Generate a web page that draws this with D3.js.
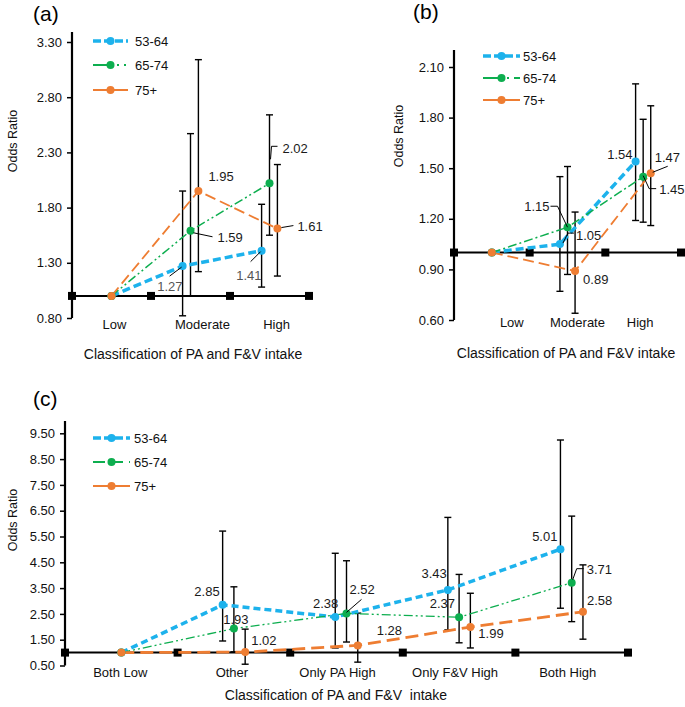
<!DOCTYPE html>
<html>
<head>
<meta charset="utf-8">
<script src="https://cdn.jsdelivr.net/npm/d3@7"></script>
<style>
  body { margin: 0; background: #fff; }
  svg text { font-family: "Liberation Sans", Arial, sans-serif; }
</style>
</head>
<body>
<div id="chart"></div>
<script>
// categories, groups, tick labels
const groups = ["53-64", "65-74", "75+"];
const catsAB = ["Low", "Moderate", "High"];
const catsC = ["Both Low", "Other", "Only PA High", "Only F&V High", "Both High"];
const ticksA = [0.80, 1.30, 1.80, 2.30, 2.80, 3.30];
const ticksB = [0.60, 0.90, 1.20, 1.50, 1.80, 2.10];
const ticksC = [0.50, 1.50, 2.50, 3.50, 4.50, 5.50, 6.50, 7.50, 8.50, 9.50];

// (a) odds ratios and 95% CI
const a_or_5364 = [1.00, 1.27, 1.41];
const a_or_6574 = [1.00, 1.59, 2.02];
const a_or_75   = [1.00, 1.95, 1.61];
const a_lo_5364 = [null, 0.82, 1.08];
const a_hi_5364 = [null, 1.95, 1.83];
const a_lo_6574 = [null, 1.00, 1.55];
const a_hi_6574 = [null, 2.47, 2.64];
const a_lo_75   = [null, 1.22, 1.18];
const a_hi_75   = [null, 3.14, 2.19];

// (b)
const b_or_5364 = [1.00, 1.05, 1.54];
const b_or_6574 = [1.00, 1.15, 1.45];
const b_or_75   = [1.00, 0.89, 1.47];
const b_lo_5364 = [null, 0.77, 1.19];
const b_hi_5364 = [null, 1.45, 2.00];
const b_lo_6574 = [null, 0.87, 1.18];
const b_hi_6574 = [null, 1.51, 1.79];
const b_lo_75   = [null, 0.64, 1.16];
const b_hi_75   = [null, 1.24, 1.87];

// (c)
const c_or_5364 = [1.00, 2.85, 2.38, 3.43, 5.01];
const c_or_6574 = [1.00, 1.93, 2.52, 2.37, 3.71];
const c_or_75   = [1.00, 1.02, 1.28, 1.99, 2.58];
const c_lo_5364 = [null, 1.45, 1.18, 1.88, 2.72];
const c_hi_5364 = [null, 5.71, 4.85, 6.24, 9.24];
const c_lo_6574 = [null, 1.03, 1.41, 1.38, 2.20];
const c_hi_6574 = [null, 3.55, 4.56, 4.03, 6.29];
const c_lo_75   = [null, 0.55, 0.63, 1.18, 1.52];
const c_hi_75   = [null, 1.91, 2.53, 3.30, 4.40];

const colors = ["#1DB2EC", "#0DAE4F", "#EE7D32"];
const W = 685, H = 707;

const svg = d3.select("#chart").append("svg")
  .attr("width", W).attr("height", H)
  .attr("viewBox", [0, 0, W, H].join(" "));

// layout of each panel
const panels = [
  {
    tag: "(a)", tagX: 33, tagY: 21,
    cats: catsAB, ticks: ticksA, catShift: [3, 12, 7],
    or: [a_or_5364, a_or_6574, a_or_75],
    lo: [a_lo_5364, a_lo_6574, a_lo_75],
    hi: [a_hi_5364, a_hi_6574, a_hi_75],
    x0: 72, x1: 309, yb: 318, yt: 42, axisTop: 32,
    catY: 329, titleX: 193, titleY: 359,
    title: "Classification of PA and F&V intake",
    yTitleX: 17, yTitleY: 141,
    widths: [3.5, 1.5, 1.8],
    dashes: ["8,4", "9,3,2,3,2,3", "11,5"],
    legend: { x0: 93, x1: 128, ys: [41, 65, 90], tx: 135,
              dashes: ["8,3", "20,4,2,5,2,5", null] },
    labels: [
      { s: 0, c: 1, dx: 0, dy: 25, anchor: "end", lead: [[-1, 1], [-13, 10]], color: "#555" },
      { s: 0, c: 2, dx: 0, dy: 29, anchor: "end", lead: [[-1, 1], [-11, 11]], color: "#555" },
      { s: 1, c: 1, dx: 27, dy: 11, anchor: "start", lead: [[3, 2], [22, 6]] },
      { s: 1, c: 2, dx: 13, dy: -30, anchor: "start", lead: [[1, -24], [2, -37], [8, -37]] },
      { s: 2, c: 1, dx: 10, dy: -10, anchor: "start" },
      { s: 2, c: 2, dx: 20, dy: 2, anchor: "start", lead: [[4, -1], [16, -3]] }
    ]
  },
  {
    tag: "(b)", tagX: 413, tagY: 19,
    cats: catsAB, ticks: ticksB, catShift: [20, 10, -3],
    or: [b_or_5364, b_or_6574, b_or_75],
    lo: [b_lo_5364, b_lo_6574, b_lo_75],
    hi: [b_hi_5364, b_hi_6574, b_hi_75],
    x0: 454, x1: 681, yb: 320, yt: 67, axisTop: 50,
    catY: 327, titleX: 566, titleY: 358,
    title: "Classification of PA and F&V intake",
    yTitleX: 403, yTitleY: 136,
    widths: [3.5, 1.5, 1.8],
    dashes: ["8,4", "9,3,2,3", "11,5"],
    legend: { x0: 483, x1: 520, ys: [56, 78, 100], tx: 523,
              dashes: ["8,3", "20,4,2,5", null] },
    labels: [
      { s: 0, c: 2, dx: -3, dy: -2, anchor: "end" },
      { s: 2, c: 2, dx: 4, dy: -11, anchor: "start", lead: [[2, -1], [17, -7]] },
      { s: 1, c: 2, dx: 16, dy: 17, anchor: "start", lead: [[0, -1], [6, 12], [13, 12]] },
      { s: 1, c: 1, dx: -18, dy: -16, anchor: "end", lead: [[0, 0], [-10, -21], [-17, -21]] },
      { s: 0, c: 1, dx: 16, dy: -4, anchor: "start", lead: [[3, -1], [8, -11], [14, -11]] },
      { s: 2, c: 1, dx: 8, dy: 13, anchor: "start" }
    ]
  },
  {
    tag: "(c)", tagX: 33, tagY: 406,
    cats: catsC, ticks: ticksC, catShift: [-1, -2, -9, -4, -4],
    or: [c_or_5364, c_or_6574, c_or_75],
    lo: [c_lo_5364, c_lo_6574, c_lo_75],
    hi: [c_hi_5364, c_hi_6574, c_hi_75],
    x0: 65, x1: 628, yb: 665.5, yt: 433.3, axisTop: 421,
    catY: 677, titleX: 336, titleY: 700,
    title: "Classification of PA and F&V  intake",
    yTitleX: 17, yTitleY: 520,
    widths: [3.5, 1.3, 2.8],
    dashes: ["7,4", "9,3,2,3,2,3", "13,6"],
    legend: { x0: 93, x1: 130, ys: [438, 462, 486], tx: 134,
              dashes: ["8,3", "12,6", null] },
    labels: [
      { s: 0, c: 1, dx: -3, dy: -9, anchor: "end" },
      { s: 1, c: 1, dx: 2, dy: -5, anchor: "middle" },
      { s: 2, c: 1, dx: 6, dy: -7, anchor: "start" },
      { s: 0, c: 2, dx: 3, dy: -9, anchor: "end" },
      { s: 1, c: 2, dx: 3, dy: -19, anchor: "start", lead: [[0, -1], [15, -14]] },
      { s: 2, c: 2, dx: 19, dy: -10, anchor: "start" },
      { s: 0, c: 3, dx: -1, dy: -12, anchor: "end" },
      { s: 1, c: 3, dx: -4, dy: -9, anchor: "end" },
      { s: 2, c: 3, dx: 8, dy: 11, anchor: "start" },
      { s: 0, c: 4, dx: -3, dy: -8, anchor: "end" },
      { s: 1, c: 4, dx: 15, dy: -9, anchor: "start", lead: [[1, -3], [5, -14], [12, -14]] },
      { s: 2, c: 4, dx: 4, dy: -7, anchor: "start" }
    ]
  }
];

const seriesOffset = [-0.1, 0, 0.1];
const fmt = d3.format(".2f");

panels.forEach((p) => {
  const g = svg.append("g");
  const x = d3.scaleBand().domain(p.cats).range([p.x0, p.x1]).padding(0);
  const edge = d3.scaleLinear().domain([0, p.cats.length]).range([p.x0, p.x1]);
  const y = d3.scaleLinear()
    .domain([p.ticks[0], p.ticks[p.ticks.length - 1]])
    .range([p.yb, p.yt]);
  const bw = x.bandwidth();
  const px = (s, c) => x(p.cats[c]) + bw / 2 + (c === 0 ? 0 : seriesOffset[s] * bw);

  // panel tag
  g.append("text")
    .attr("x", p.tagX).attr("y", p.tagY)
    .attr("font-size", 21).attr("fill", "#000")
    .text(p.tag);

  // y axis
  const yAxis = d3.axisLeft(y)
    .tickValues(p.ticks)
    .tickFormat(fmt)
    .tickSize(5)
    .tickPadding(5)
    .tickSizeOuter(0);
  const ag = g.append("g")
    .attr("transform", "translate(" + p.x0 + ",0)")
    .call(yAxis);
  ag.select(".domain").remove();
  ag.selectAll(".tick line").attr("stroke", "#000").attr("stroke-width", 1.5);
  ag.selectAll(".tick text")
    .attr("font-size", 13)
    .attr("fill", "#111")
    .style("font-family", '"Liberation Sans", Arial, sans-serif');
  g.append("line")
    .attr("x1", p.x0).attr("x2", p.x0)
    .attr("y1", p.yb).attr("y2", p.axisTop)
    .attr("stroke", "#000").attr("stroke-width", 2.2);

  // y title
  g.append("text")
    .attr("transform", "translate(" + p.yTitleX + "," + p.yTitleY + ") rotate(-90)")
    .attr("text-anchor", "middle")
    .attr("font-size", 12.5).attr("fill", "#111")
    .text("Odds Ratio");

  // category labels
  g.selectAll("text.cat")
    .data(p.cats)
    .enter().append("text")
    .attr("class", "cat")
    .attr("x", (d, i) => x(d) + bw / 2 + p.catShift[i])
    .attr("y", p.catY)
    .attr("text-anchor", "middle")
    .attr("font-size", 13).attr("fill", "#111")
    .text((d) => d);

  // x title
  g.append("text")
    .attr("x", p.titleX).attr("y", p.titleY)
    .attr("text-anchor", "middle")
    .attr("font-size", 14).attr("fill", "#111")
    .attr("xml:space", "preserve")
    .style("white-space", "pre")
    .text(p.title);

  // reference line at OR = 1
  g.append("line")
    .attr("x1", p.x0).attr("x2", p.x1)
    .attr("y1", y(1)).attr("y2", y(1))
    .attr("stroke", "#000").attr("stroke-width", 2);
  g.selectAll("rect.ref")
    .data(d3.range(p.cats.length + 1))
    .enter().append("rect")
    .attr("class", "ref")
    .attr("x", (d) => edge(d) - 4)
    .attr("y", y(1) - 4)
    .attr("width", 8).attr("height", 8)
    .attr("fill", "#000");

  // error bars
  groups.forEach((grp, s) => {
    p.cats.forEach((cat, c) => {
      const lo = p.lo[s][c], hi = p.hi[s][c];
      if (lo === null) return;
      const cx = px(s, c);
      g.append("line")
        .attr("x1", cx).attr("x2", cx)
        .attr("y1", y(lo)).attr("y2", y(hi))
        .attr("stroke", "#000").attr("stroke-width", 1.4);
      [lo, hi].forEach((v) => {
        g.append("line")
          .attr("x1", cx - 3.5).attr("x2", cx + 3.5)
          .attr("y1", y(v)).attr("y2", y(v))
          .attr("stroke", "#000").attr("stroke-width", 1.4);
      });
    });
  });

  // series lines
  const line = d3.line().x((d) => d[0]).y((d) => d[1]);
  groups.forEach((grp, s) => {
    const pts = p.or[s].map((v, c) => [px(s, c), y(v)]);
    g.append("path")
      .attr("d", line(pts))
      .attr("fill", "none")
      .attr("stroke", colors[s])
      .attr("stroke-width", p.widths[s])
      .attr("stroke-dasharray", p.dashes[s]);
  });
  groups.forEach((grp, s) => {
    g.selectAll("circle.s" + s)
      .data(p.or[s])
      .enter().append("circle")
      .attr("class", "s" + s)
      .attr("cx", (d, c) => px(s, c))
      .attr("cy", (d) => y(d))
      .attr("r", 4)
      .attr("fill", colors[s]);
  });

  // data labels
  p.labels.forEach((l) => {
    const cx = px(l.s, l.c), cy = y(p.or[l.s][l.c]);
    if (l.lead) {
      g.append("path")
        .attr("d", line(l.lead.map((q) => [cx + q[0], cy + q[1]])))
        .attr("fill", "none")
        .attr("stroke", "#000").attr("stroke-width", 1);
    }
    g.append("text")
      .attr("x", cx + l.dx).attr("y", cy + l.dy)
      .attr("text-anchor", l.anchor)
      .attr("font-size", 13)
      .attr("fill", l.color || "#1a1a1a")
      .text(fmt(p.or[l.s][l.c]));
  });

  // legend
  groups.forEach((grp, s) => {
    const ly = p.legend.ys[s];
    g.append("line")
      .attr("x1", p.legend.x0).attr("x2", p.legend.x1)
      .attr("y1", ly).attr("y2", ly)
      .attr("stroke", colors[s])
      .attr("stroke-width", s === 0 ? 3.5 : 2.2)
      .attr("stroke-dasharray", p.legend.dashes[s]);
    g.append("circle")
      .attr("cx", (p.legend.x0 + p.legend.x1) / 2).attr("cy", ly)
      .attr("r", 4).attr("fill", colors[s]);
    g.append("text")
      .attr("x", p.legend.tx).attr("y", ly + 4.5)
      .attr("font-size", 13).attr("fill", "#111")
      .text(grp);
  });
});
</script>
</body>
</html>
